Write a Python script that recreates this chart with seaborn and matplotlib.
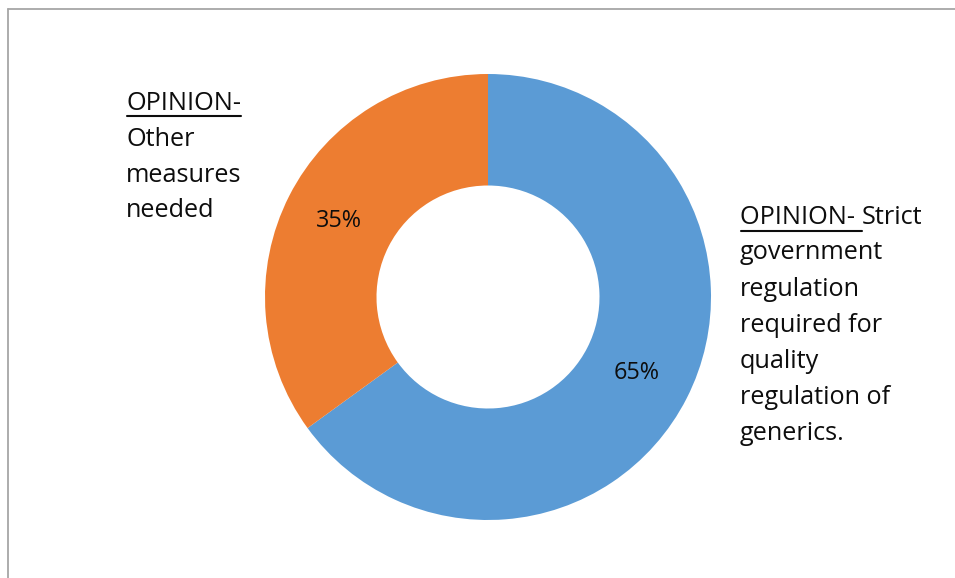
import matplotlib
matplotlib.use("Agg")
import matplotlib.pyplot as plt
from matplotlib.lines import Line2D
import seaborn as sns

# Survey opinions on quality regulation of generic medicines
categories = ["OPINION- Strict government regulation required for quality regulation of generics.",
              "OPINION- Other measures needed"]
shares = [65, 35]
colors = ["#5B9BD5", "#ED7D31"]

left_label_lines = ["OPINION-", "Other", "measures", "needed"]
right_label_lines = ["OPINION- ", "government", "regulation", "required for",
                     "quality", "regulation of", "generics."]

sns.set_theme(style="white")
plt.rcParams["font.family"] = ["Open Sans", "DejaVu Sans"]

W, H = 955, 578
fig = plt.figure(figsize=(W / 100, H / 100), dpi=100)
fig.patch.set_facecolor("white")

text_color = "#0d0d0d"

# Donut placed in pixel units: centre (488, 297), radius 223
cx, cy, r = 488, 297, 223
ax = fig.add_axes([(cx - r) / W, (H - cy - r) / H, 2 * r / W, 2 * r / H])
wedges, texts, autotexts = ax.pie(
    shares, colors=colors, startangle=90, counterclock=False,
    autopct="%d%%", pctdistance=0.75,
    wedgeprops=dict(width=0.5, edgecolor="none"),
    textprops=dict(fontsize=16.8, color=text_color),
)
ax.set_xlim(-1, 1)
ax.set_ylim(-1, 1)
ax.axis("off")

# Chart frame (left and top edges visible)
frame_color = "#a6a6a6"
fig.add_artist(Line2D([8 / W, 8 / W], [0, 1 - 9 / H], color=frame_color, lw=1.3,
                      transform=fig.transFigure))
fig.add_artist(Line2D([8 / W, 1], [1 - 9 / H, 1 - 9 / H], color=frame_color, lw=1.3,
                      transform=fig.transFigure))

fs = 18.2


def put(x, y, s):
    return fig.text(x / W, 1 - y / H, s, fontsize=fs, color=text_color,
                    ha="left", va="center")


left_texts = [put(126, 103 + 36 * i, s) for i, s in enumerate(left_label_lines)]
right_texts = [put(740, 217 + 36 * i, s) for i, s in enumerate(right_label_lines)]

fig.canvas.draw()
renderer = fig.canvas.get_renderer()

# "Strict" follows the underlined heading on the first right-hand line
bb = right_texts[0].get_window_extent(renderer)
fig.text(bb.x1 / W, 1 - 217 / H, "Strict", fontsize=fs, color=text_color,
         ha="left", va="center")


def underline(t, y_px):
    b = t.get_window_extent(renderer)
    fig.add_artist(Line2D([(b.x0 + 1) / W, b.x1 / W], [1 - y_px / H, 1 - y_px / H],
                          color=text_color, lw=1.5, transform=fig.transFigure))


underline(left_texts[0], 116)
underline(right_texts[0], 231)

fig.savefig("out.png", dpi=100, facecolor="white")
